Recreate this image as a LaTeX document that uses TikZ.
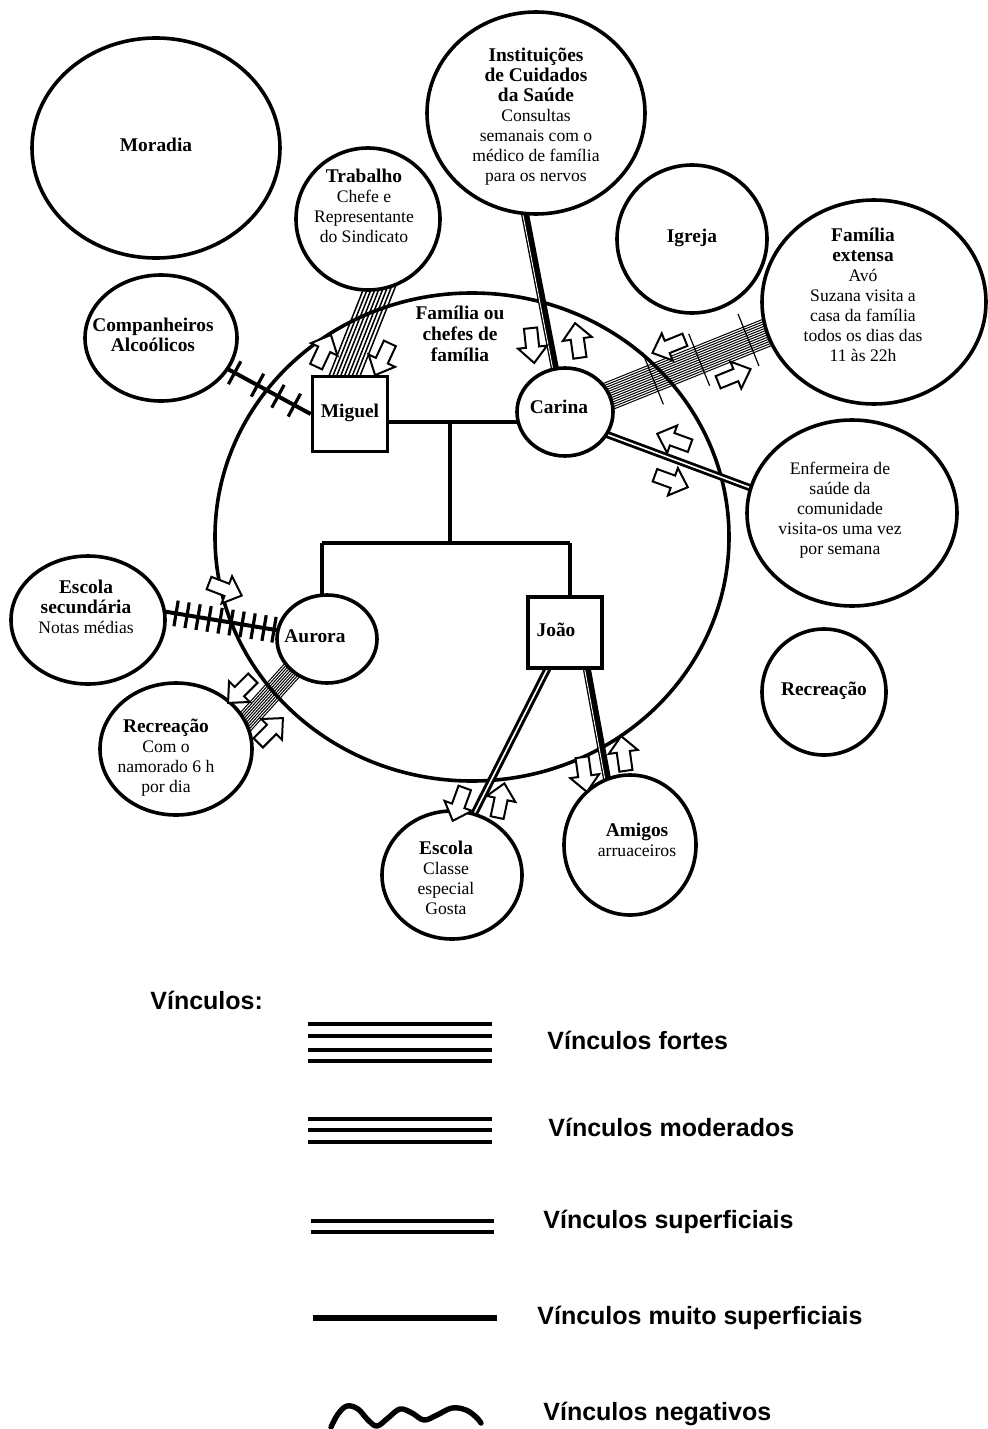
\documentclass[tikz,border=0pt]{standalone}
\usepackage{fontspec}
\setmainfont{Liberation Serif}
\setsansfont{Liberation Sans}
\usetikzlibrary{shapes.geometric,shapes.arrows,calc}
\pgfdeclarelayer{bg}
\pgfsetlayers{bg,main}

% centred multi-line label of zero size: #1 = x offset, #2 = y offset
\newcommand\ntext[3]{\raisebox{\dimexpr#2-2.2pt\relax}[0pt][0pt]{\makebox[0pt]{\hspace*{#1}\hspace*{#1}\begin{tabular}[c]{@{}c@{}}#3\end{tabular}}}}
% bold heading line inside a label
\newcommand\hd[1]{{\fontsize{9.7pt}{10.5pt}\selectfont\bfseries #1}}

\tikzset{
  every node/.style={font=\fontsize{8.8pt}{10pt}\selectfont},
  sys/.style={ellipse, draw, line width=1.8pt, fill=white, inner sep=0pt},
  person/.style={rectangle, draw, line width=1.8pt, fill=white, inner sep=0pt},
  tie/.style={line width=1.8pt},
  hatched/.style={line width=2pt},
  hatchmark/.style={line width=1.6pt},
  bandline/.style={line width=#1, shorten <=-6pt, shorten >=-6pt},
  bandline/.default=0.5pt,
  crossmark/.style={line width=0.6pt},
  splitline/.style={line width=4pt, shorten <=-4pt, shorten >=-4pt},
  splitrule/.style={white, line width=0.45pt, shorten <=-4pt, shorten >=-4pt},
  flow/.style={single arrow, draw, fill=white, line width=1pt, inner sep=2.8pt,
    minimum height=17.5pt, single arrow head extend=4pt, single arrow tip angle=85},
  legend/.style={font=\sffamily\bfseries\fontsize{12.5pt}{14pt}\selectfont, anchor=west, inner sep=0pt},
  legline/.style={line width=2.3pt},
}

\begin{document}
\begin{tikzpicture}[x=0.5pt, y=-0.5pt]
\useasboundingbox (0,0) rectangle (987,1429);

% ---- ecosystem circles ----
\node[sys, minimum width=124pt, minimum height=110pt] (mor) at (156,148) {\ntext{0pt}{0pt}{\hd{Moradia}}};
\node[sys, minimum width=72pt, minimum height=71pt] (trab) at (368,219)
  {\ntext{-2pt}{5pt}{\hd{Trabalho}\\Chefe e\\Representante\\do Sindicato}};
\node[sys, minimum width=109pt, minimum height=101pt] (inst) at (536,113)
  {\ntext{0pt}{-2.5pt}{\hd{Instituições}\\\hd{de Cuidados}\\\hd{da Saúde}\\Consultas\\semanais com o\\médico de família\\para os nervos}};
\node[sys, minimum width=75pt, minimum height=74pt] (igr) at (692,239) {\ntext{0pt}{0pt}{\hd{Igreja}}};
\node[sys, minimum width=112pt, minimum height=102pt] (fe) at (874,302)
  {\ntext{-5.5pt}{2pt}{\hd{Família}\\\hd{extensa}\\Avó\\Suzana visita a\\casa da família\\todos os dias das\\11 às 22h}};
\node[sys, minimum width=76pt, minimum height=63pt] (comp) at (161,338)
  {\ntext{-4pt}{0pt}{\hd{Companheiros}\\\hd{Alcoólicos}}};
\node[sys, minimum width=105pt, minimum height=93pt] (enf) at (852,513)
  {\ntext{-6pt}{1pt}{Enfermeira de\\saúde da\\comunidade\\visita-os uma vez\\por semana}};
\node[sys, minimum width=62pt, minimum height=63pt] (recR) at (824,692) {\ntext{0pt}{0pt}{\hd{Recreação}}};
\node[sys, minimum width=77pt, minimum height=64pt] (escs) at (88,620)
  {\ntext{-1pt}{5pt}{\hd{Escola}\\\hd{secundária}\\Notas médias}};
\node[sys, minimum width=76pt, minimum height=66pt] (recL) at (176,749)
  {\ntext{-5pt}{-5pt}{\hd{Recreação}\\Com o\\namorado 6 h\\por dia}};
\node[sys, minimum width=70pt, minimum height=64pt] (esc) at (452,875)
  {\ntext{-3pt}{-3pt}{\hd{Escola}\\Classe\\especial\\Gosta}};
\node[sys, minimum width=66pt, minimum height=70pt] (ami) at (630,845)
  {\ntext{3.5pt}{1pt}{\hd{Amigos}\\arruaceiros}};

% ---- family members ----
\node[person, minimum width=37.5pt, minimum height=37.5pt] (mig) at (350,414) {\ntext{0pt}{0pt}{\hd{Miguel}}};
\node[sys, minimum width=48pt, minimum height=44pt] (car) at (565,412) {\ntext{-3pt}{1pt}{\hd{Carina}}};
\node[sys, minimum width=50pt, minimum height=44pt] (aur) at (327,639) {\ntext{-6pt}{0pt}{\hd{Aurora}}};
\node[person, minimum width=37pt, minimum height=35.5pt] (joao) at (565,632.5) {\ntext{-4.5pt}{0pt}{\hd{João}}};

\node[align=center, inner sep=0pt, font=\bfseries\fontsize{9.7pt}{10.5pt}\selectfont] (famlbl) at (460,334)
  {Família ou\\chefes de\\família};

% ---- household circle, genogram and ties (behind the circles) ----
\begin{pgfonlayer}{bg}
\node[ellipse, draw, line width=1.8pt, minimum width=257pt, minimum height=244pt] (fam) at (472,537) {};

\coordinate (mc) at (450,422);
\coordinate (ch) at (450,543);
\coordinate (kidL) at (322,543);
\coordinate (kidR) at (570,543);
\draw[tie] (mig.center |- mc) -- (car.center |- mc);
\draw[tie] (mc) -- (ch);
\draw[tie] (kidL) -- (kidR);
\draw[tie] (kidL) -- (aur.center -| kidL);
\draw[tie] (kidR) -- (joao.center -| kidR);

% work: strong tie
\coordinate (tmA) at ($(mig.north)+(-5,0)$);
\coordinate (tmB) at (trab.-82);
\foreach \k in {-4,...,4}
  \draw[bandline=0.75pt] ($(tmA)!\k*1.8pt!90:(tmB)$) -- ($(tmB)!\k*1.8pt!-90:(tmA)$);

% extended family: strong tie crossed by stress marks
\coordinate (cfA) at (car.20);
\coordinate (cfB) at (fe.196);
\foreach \k in {-6,...,6}
  \draw[bandline] ($(cfA)!\k*1.15pt!90:(cfB)$) -- ($(cfB)!\k*1.15pt!-90:(cfA)$);
\foreach \t in {0.27,0.57,0.89}
  \draw[crossmark] ($(cfA)!\t!(cfB)!14pt!90:(cfB)$) -- ($(cfA)!\t!(cfB)!14pt!-90:(cfB)$);

% recreation (boyfriend): strong tie
\coordinate (arA) at (aur.222);
\coordinate (arB) at (recL.22);
\foreach \k in {-4.5,-3.5,...,4.5}
  \draw[bandline] ($(arA)!\k*1.1pt!90:(arB)$) -- ($(arB)!\k*1.1pt!-90:(arA)$);

% health care institutions: thick line split by a thin white rule
\coordinate (icA) at (inst.-96);
\coordinate (icB) at (car.103);
\draw[splitline] (icA) -- (icB);
\draw[splitrule] ($(icA)!1.1pt!-90:(icB)$) -- ($(icB)!1.1pt!90:(icA)$);

% community nurse
\draw[line width=1.4pt, double, double distance=0.8pt, shorten <=-4pt, shorten >=-4pt] (car.-28) -- (enf.166);

% school
\draw[line width=1.5pt, double, double distance=0.8pt, shorten <=-4pt, shorten >=-4pt] ($(joao.south)+(-18,0)$) -- (esc.70);

% friends
\coordinate (jaA) at ($(joao.south)+(22,0)$);
\coordinate (jaB) at (ami.109);
\draw[splitline] (jaA) -- (jaB);
\draw[splitrule] ($(jaA)!1.1pt!-90:(jaB)$) -- ($(jaB)!1.1pt!90:(jaA)$);

% alcoholic companions: stressful tie
\draw[hatched, shorten <=-3pt] (comp.-25) -- (mig.west);
\foreach \t in {0.07,0.35,0.6,0.8}
  \draw[hatchmark] ($(comp.-25)!\t!(mig.west)!6.5pt!90:(mig.west)$) -- ($(comp.-25)!\t!(mig.west)!6.5pt!-90:(mig.west)$);

% secondary school: stressful tie
\draw[hatched, shorten <=-3pt, shorten >=-3pt] (escs.6) -- (aur.170);
\foreach \t in {0.09,0.19,0.29,0.39,0.49,0.59,0.69,0.79,0.89,0.98}
  \draw[hatchmark] ($(escs.6)!\t!(aur.170)!6.5pt!90:(aur.170)$) -- ($(escs.6)!\t!(aur.170)!6.5pt!-90:(aur.170)$);
\end{pgfonlayer}

% ---- flow of energy ----
\node[flow, rotate=65] (f1) at (322,354) {};
\node[flow, rotate=245] (f2) at (384,356) {};
\node[flow, rotate=-84] (f3) at (532,342) {};
\node[flow, rotate=98] (f4) at (578,344) {};
\node[flow, rotate=202] (f5) at (672,345) {};
\node[flow, rotate=22] (f6) at (731,377) {};
\node[flow, rotate=160] (f7) at (677,441) {};
\node[flow, rotate=-20] (f8) at (668,480) {};
\node[flow, rotate=-21] (f9) at (222,588) {};
\node[flow, rotate=225] (f10) at (243,688) {};
\node[flow, rotate=45] (f11) at (268,733) {};
\node[flow, rotate=250] (f12) at (460,801) {};
\node[flow, rotate=78] (f13) at (500,804) {};
\node[flow, rotate=-82] (f14) at (584,771) {};
\node[flow, rotate=98] (f15) at (624,757) {};

% ---- key ----
\node[legend] (keyt) at (150,1000) {Vínculos:};
\node[legend] (k1) at (547,1040) {Vínculos fortes};
\node[legend] (k2) at (548,1127) {Vínculos moderados};
\node[legend] (k3) at (543,1222) {Vínculos superficiais};
\node[legend] (k4) at (537,1318) {Vínculos muito superficiais};
\node[legend] (k5) at (543,1414) {Vínculos negativos};

\foreach \y in {1024,1036,1050,1061} \draw[legline] (308,\y) -- (492,\y);
\foreach \y in {1119,1130,1142} \draw[legline] (308,\y) -- (492,\y);
\foreach \y in {1221,1232} \draw[legline] (311,\y) -- (494,\y);
\draw[legline, line width=2.6pt] (313,1318) -- (497,1318);
\draw[line width=2.7pt, line cap=round, line join=round] plot[smooth, tension=0.6] coordinates
  {(331,1427) (338,1414) (347,1406) (358,1409) (368,1420) (377,1426) (388,1418) (400,1409) (412,1413) (424,1420) (437,1415) (452,1408) (466,1410) (476,1417) (481,1423)};
\end{tikzpicture}
\end{document}
